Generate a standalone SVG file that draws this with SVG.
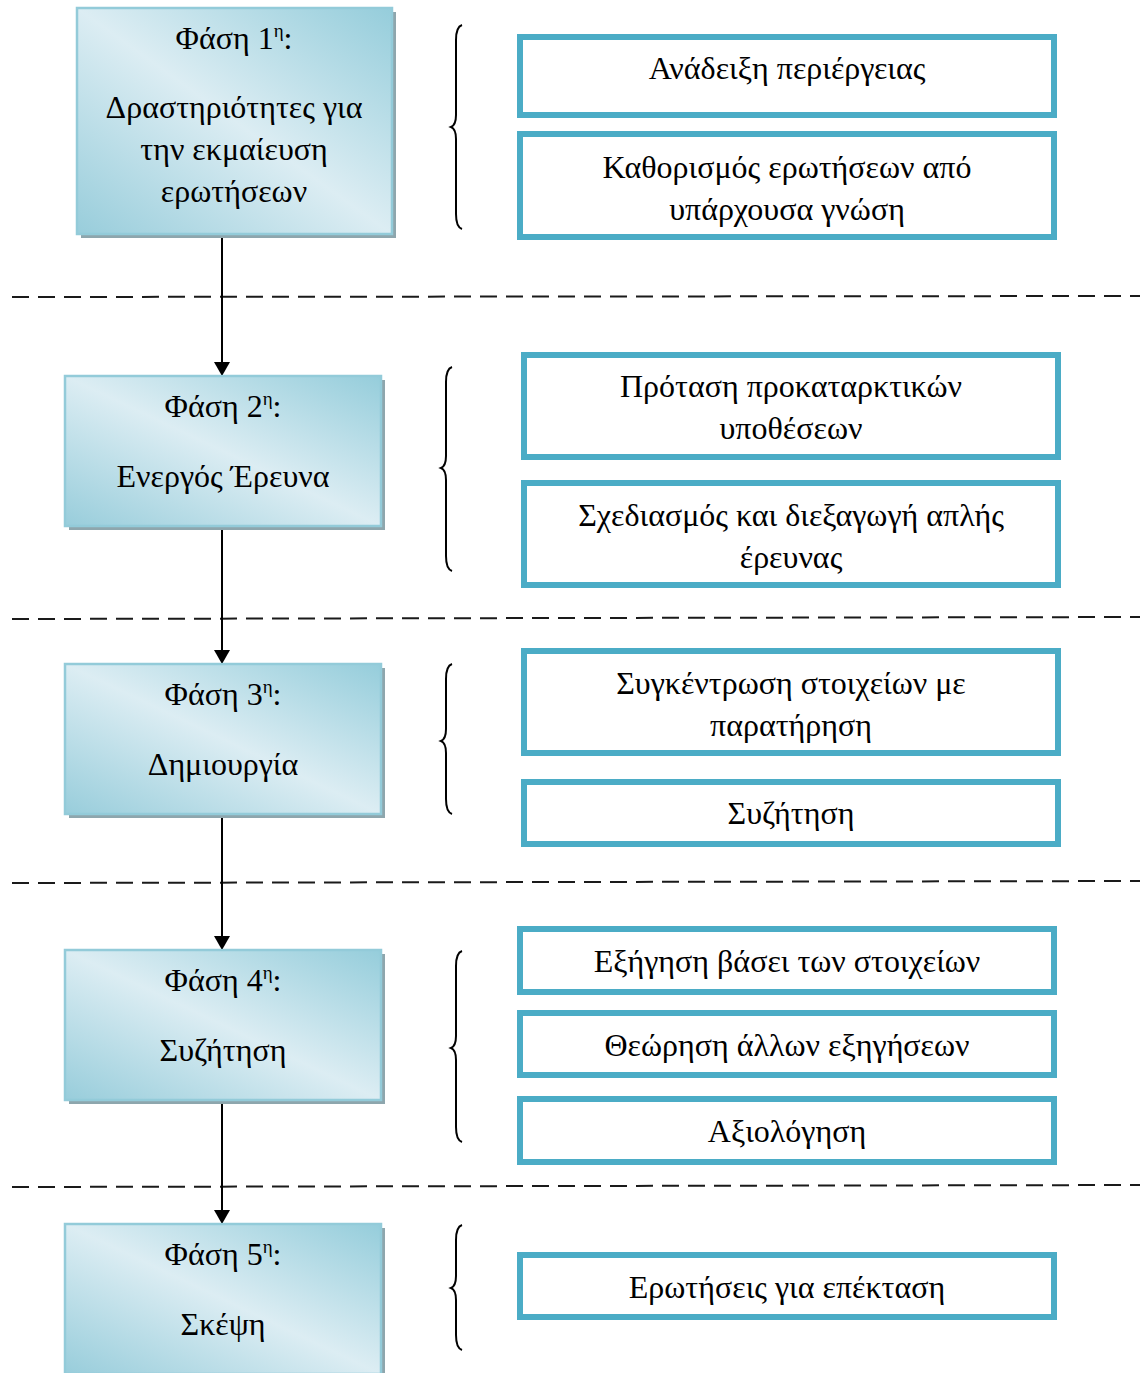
<svg xmlns="http://www.w3.org/2000/svg" width="1140" height="1373" viewBox="0 0 1140 1373">
  <defs>
    <linearGradient id="phaseFill" x1="0" y1="1" x2="1" y2="0">
      <stop offset="0" stop-color="#98cddb"/>
      <stop offset="0.5" stop-color="#dcedf3"/>
      <stop offset="1" stop-color="#95cddb"/>
    </linearGradient>
    <marker id="arrowHead" viewBox="0 0 14 16" refX="14" refY="8" markerWidth="14" markerHeight="16" markerUnits="userSpaceOnUse" orient="auto">
      <path d="M0,0 L14,8 L0,16 Z" fill="#000"/>
    </marker>
  </defs>
  <style>
    text { font-family: "Liberation Serif", "Times New Roman", serif; font-size: 32px; fill: #000; text-anchor: middle; }
    .sup { font-size: 19px; }
    .shadow { fill: #8ea6ad; }
    .phase { fill: url(#phaseFill); stroke: #93cbd9; stroke-width: 2.5; }
    .step { fill: #fff; stroke: #4bacc6; stroke-width: 6; }
    .brace { fill: none; stroke: #000; stroke-width: 2; }
    .divider { stroke: #1a1a1a; stroke-width: 2; stroke-dasharray: 17 9; }
    .flow { stroke: #000; stroke-width: 2; fill: none; marker-end: url(#arrowHead); }
  </style>

  <rect width="1140" height="1373" fill="#fff"/>

  <!-- section dividers -->
  <g id="dividers">
    <line class="divider" x1="12" y1="297" x2="1140" y2="296"/>
    <line class="divider" x1="12" y1="619" x2="1140" y2="617"/>
    <line class="divider" x1="12" y1="883" x2="1140" y2="881"/>
    <line class="divider" x1="12" y1="1187" x2="1140" y2="1185"/>
  </g>

  <!-- connectors between phases -->
  <g id="connectors">
    <line class="flow" x1="222" y1="236" x2="222" y2="376"/>
    <line class="flow" x1="222" y1="527" x2="222" y2="664"/>
    <line class="flow" x1="222" y1="815" x2="222" y2="950"/>
    <line class="flow" x1="222" y1="1101" x2="222" y2="1224"/>
  </g>

  <!-- phase 1 -->
  <g id="phase1">
    <rect class="shadow" x="81" y="12" width="315" height="226"/>
    <rect class="phase" x="77" y="8" width="315" height="226"/>
    <text x="234" y="49">Φάση 1<tspan class="sup" dy="-12">η</tspan><tspan dy="12">:</tspan></text>
    <text x="234" y="118">Δραστηριότητες για</text>
    <text x="234" y="160">την εκμαίευση</text>
    <text x="234" y="202">ερωτήσεων</text>
  </g>
  <g id="brace1"><path class="brace" d="M462,25 Q456,27 456,40 L456,115 Q456,125 451,127 Q456,129 456,139 L456,214 Q456,227 462,229"/></g>
  <g id="step1a">
    <rect class="step" x="520" y="37" width="534" height="78"/>
    <text x="787" y="79">Ανάδειξη περιέργειας</text>
  </g>
  <g id="step1b">
    <rect class="step" x="520" y="134" width="534" height="103"/>
    <text x="787" y="178">Καθορισμός ερωτήσεων από</text>
    <text x="787" y="220">υπάρχουσα γνώση</text>
  </g>

  <!-- phase 2 -->
  <g id="phase2">
    <rect class="shadow" x="69" y="380" width="316" height="150"/>
    <rect class="phase" x="65" y="376" width="316" height="150"/>
    <text x="223" y="417">Φάση 2<tspan class="sup" dy="-12">η</tspan><tspan dy="12">:</tspan></text>
    <text x="223" y="487">Ενεργός Έρευνα</text>
  </g>
  <g id="brace2"><path class="brace" d="M452,367 Q446,369 446,382 L446,456 Q446,466 441,468 Q446,470 446,480 L446,556 Q446,569 452,571"/></g>
  <g id="step2a">
    <rect class="step" x="524" y="355" width="534" height="102"/>
    <text x="791" y="397">Πρόταση προκαταρκτικών</text>
    <text x="791" y="439">υποθέσεων</text>
  </g>
  <g id="step2b">
    <rect class="step" x="524" y="483" width="534" height="102"/>
    <text x="791" y="526">Σχεδιασμός και διεξαγωγή απλής</text>
    <text x="791" y="568">έρευνας</text>
  </g>

  <!-- phase 3 -->
  <g id="phase3">
    <rect class="shadow" x="69" y="668" width="316" height="150"/>
    <rect class="phase" x="65" y="664" width="316" height="150"/>
    <text x="223" y="705">Φάση 3<tspan class="sup" dy="-12">η</tspan><tspan dy="12">:</tspan></text>
    <text x="223" y="775">Δημιουργία</text>
  </g>
  <g id="brace3"><path class="brace" d="M452,664 Q446,666 446,679 L446,729 Q446,739 441,741 Q446,743 446,753 L446,799 Q446,812 452,814"/></g>
  <g id="step3a">
    <rect class="step" x="524" y="651" width="534" height="102"/>
    <text x="791" y="694">Συγκέντρωση στοιχείων με</text>
    <text x="791" y="736">παρατήρηση</text>
  </g>
  <g id="step3b">
    <rect class="step" x="524" y="782" width="534" height="62"/>
    <text x="791" y="824">Συζήτηση</text>
  </g>

  <!-- phase 4 -->
  <g id="phase4">
    <rect class="shadow" x="69" y="954" width="316" height="150"/>
    <rect class="phase" x="65" y="950" width="316" height="150"/>
    <text x="223" y="991">Φάση 4<tspan class="sup" dy="-12">η</tspan><tspan dy="12">:</tspan></text>
    <text x="223" y="1061">Συζήτηση</text>
  </g>
  <g id="brace4"><path class="brace" d="M462,951 Q456,953 456,966 L456,1036 Q456,1046 451,1048 Q456,1050 456,1060 L456,1127 Q456,1140 462,1142"/></g>
  <g id="step4a">
    <rect class="step" x="520" y="929" width="534" height="63"/>
    <text x="787" y="972">Εξήγηση βάσει των στοιχείων</text>
  </g>
  <g id="step4b">
    <rect class="step" x="520" y="1013" width="534" height="62"/>
    <text x="787" y="1056">Θεώρηση άλλων εξηγήσεων</text>
  </g>
  <g id="step4c">
    <rect class="step" x="520" y="1099" width="534" height="63"/>
    <text x="787" y="1142">Αξιολόγηση</text>
  </g>

  <!-- phase 5 -->
  <g id="phase5">
    <rect class="shadow" x="69" y="1228" width="316" height="150"/>
    <rect class="phase" x="65" y="1224" width="316" height="150"/>
    <text x="223" y="1265">Φάση 5<tspan class="sup" dy="-12">η</tspan><tspan dy="12">:</tspan></text>
    <text x="223" y="1335">Σκέψη</text>
  </g>
  <g id="brace5"><path class="brace" d="M462,1225 Q456,1227 456,1240 L456,1276 Q456,1286 451,1288 Q456,1290 456,1300 L456,1335 Q456,1348 462,1350"/></g>
  <g id="step5a">
    <rect class="step" x="520" y="1255" width="534" height="62"/>
    <text x="787" y="1298">Ερωτήσεις για επέκταση</text>
  </g>
</svg>
